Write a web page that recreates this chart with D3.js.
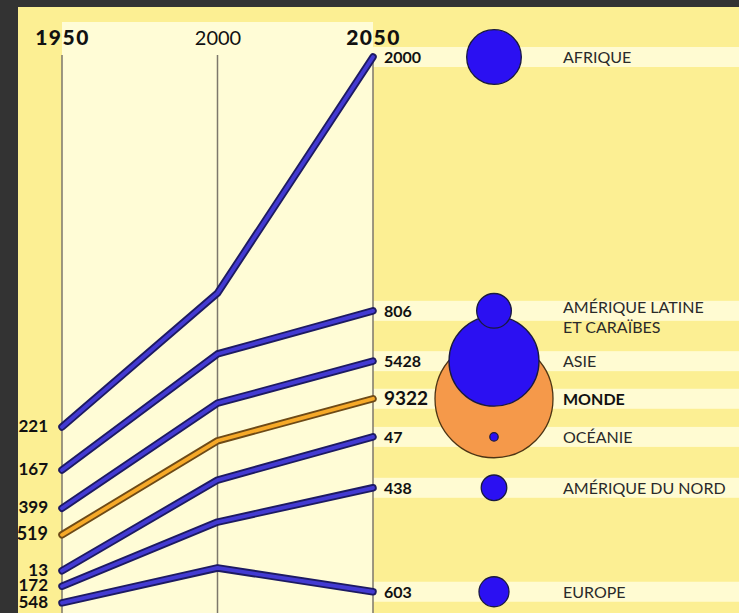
<!DOCTYPE html>
<html>
<head>
<meta charset="utf-8">
<script src="https://cdn.jsdelivr.net/npm/d3@7"></script>
<style>
    html, body { margin: 0; padding: 0; background: #333333; }
    svg { display: block; font-family: Lato, 'Open Sans', sans-serif; }
</style>
</head>
<body>
<div id="chart"></div>
<script>
// données
const years = [1950, 2000, 2050]
const regions = ['AFRIQUE', 'AMÉRIQUE LATINE|ET CARAÏBES', 'ASIE', 'MONDE', 'OCÉANIE', 'AMÉRIQUE DU NORD', 'EUROPE']
const pop1950 = [221, 167, 1399, 2519, 13, 172, 548]
const pop2050 = [2000, 806, 5428, 9322, 47, 438, 603]
// position (niveau 0-100) de chaque courbe
const level1950 = [33.1, 25.3, 18.4, 13.6, 7.1, 4.3, 1.3]
const level2000 = [57.3, 46.3, 37.4, 30.6, 23.5, 15.9, 7.6]
const level2050 = [100, 54.1, 45.0, 38.2, 31.3, 22.1, 3.3]
const worldName = 'MONDE'

const width = 739
const height = 613

const data = regions.map((name, i) => ({
    name: name,
    lines: name.split('|'),
    world: name == worldName,
    p1950: pop1950[i],
    p2050: pop2050[i],
    levels: [level1950[i], level2000[i], level2050[i]],
}))

const svg = d3.select('#chart').append('svg').attr('width', width).attr('height', height)

const x = d3.scalePoint().domain(years).range([62, 373])
const y = d3.scaleLinear().domain([0, 100]).range([610, 57])
const r = d3.scaleSqrt().domain([0, d3.max(pop2050)]).range([0, 59])
const cx = 494

// fonds
svg.append('rect').attr('width', width).attr('height', height).attr('fill', '#333333')
svg.append('rect').attr('x', 18).attr('y', 7).attr('width', width - 18).attr('height', height - 7).attr('fill', '#fcef93')
svg.append('rect')
    .attr('x', x(1950))
    .attr('y', 22)
    .attr('width', x(2050) - x(1950))
    .attr('height', height - 22)
    .attr('fill', '#fffcd6')

// bandes claires à droite
svg.append('g')
    .selectAll('rect')
    .data(data)
    .join('rect')
    .attr('x', x(2050))
    .attr('y', (d) => y(d.levels[2]) - 10)
    .attr('width', width - x(2050))
    .attr('height', 20)
    .attr('fill', '#fffbd2')

// lignes verticales
svg.append('g')
    .selectAll('line')
    .data(years)
    .join('line')
    .attr('x1', (d) => x(d))
    .attr('x2', (d) => x(d))
    .attr('y1', 55)
    .attr('y2', height)
    .attr('stroke', '#7d776b')
    .attr('stroke-width', 1.5)

// axe des années
const gXAxis = svg.append('g').attr('transform', 'translate(0, 45)')
gXAxis.call(d3.axisTop(x).tickSize(0).tickPadding(0))
gXAxis.select('.domain').remove()
gXAxis
    .selectAll('text')
    .attr('fill', '#111')
    .style('font-family', 'Lato, sans-serif')
    .style('font-size', (d) => (d == 2000 ? '20px' : '21px'))
    .style('font-weight', (d) => (d == 2000 ? 'normal' : '900'))
    .style('letter-spacing', (d) => (d == 2000 ? '0px' : '1.5px'))

// courbes
const line = d3
    .line()
    .x((d, i) => x(years[i]))
    .y((d) => y(d))

const gLines = svg.append('g')
data.forEach((d) => {
    gLines
        .append('path')
        .attr('d', line(d.levels))
        .attr('fill', 'none')
        .attr('stroke', d.world ? '#6e4a16' : '#1d1a62')
        .attr('stroke-width', 7.5)
        .attr('stroke-linecap', 'round')
        .attr('stroke-linejoin', 'round')
    gLines
        .append('path')
        .attr('d', line(d.levels))
        .attr('fill', 'none')
        .attr('stroke', d.world ? '#f6a928' : '#433ad2')
        .attr('stroke-width', 3.8)
        .attr('stroke-linecap', 'round')
        .attr('stroke-linejoin', 'round')
})

// étiquettes 1950
svg.append('g')
    .selectAll('text')
    .data(data)
    .join('text')
    .attr('x', 48)
    .attr('y', (d) => y(d.levels[0]) + 5)
    .attr('text-anchor', 'end')
    .attr('fill', '#111')
    .style('font-size', (d) => (d.world ? '18px' : '17px'))
    .style('font-weight', 'bold')
    .text((d) => d.p1950)

// étiquettes 2050
svg.append('g')
    .selectAll('text')
    .data(data)
    .join('text')
    .attr('x', 384)
    .attr('y', (d) => y(d.levels[2]) + 6)
    .attr('fill', '#111')
    .style('font-size', (d) => (d.world ? '19px' : '16px'))
    .style('font-weight', 'bold')
    .text((d) => d.p2050)

// cercles proportionnels (les plus grands d'abord)
svg.append('g')
    .selectAll('circle')
    .data(data.slice().sort((a, b) => b.p2050 - a.p2050))
    .join('circle')
    .attr('cx', cx)
    .attr('cy', (d) => y(d.levels[2]))
    .attr('r', (d) => r(d.p2050))
    .attr('fill', (d) => (d.world ? '#f5994a' : '#2b10f2'))
    .attr('stroke', (d) => (d.world ? '#4d3414' : '#1a1a40'))
    .attr('stroke-width', 1.3)

// noms des régions
const names = svg
    .append('g')
    .selectAll('text')
    .data(data)
    .join('text')
    .attr('x', 563)
    .attr('y', (d) => y(d.levels[2]) + 6 - (d.lines.length - 1) * 4)
    .attr('fill', (d) => (d.world ? '#111' : '#2a2a2a'))
    .style('font-size', '16px')
    .style('font-weight', (d) => (d.world ? 'bold' : 'normal'))

names
    .selectAll('tspan')
    .data((d) => d.lines)
    .join('tspan')
    .attr('x', 563)
    .attr('dy', (d, i) => (i == 0 ? 0 : 20))
    .text((d) => d)

// cadre sombre par-dessus
svg.append('rect').attr('x', 0).attr('y', 0).attr('width', 18).attr('height', height).attr('fill', '#333333')
svg.append('rect').attr('x', 0).attr('y', 0).attr('width', width).attr('height', 7).attr('fill', '#333333')
</script>
</body>
</html>
